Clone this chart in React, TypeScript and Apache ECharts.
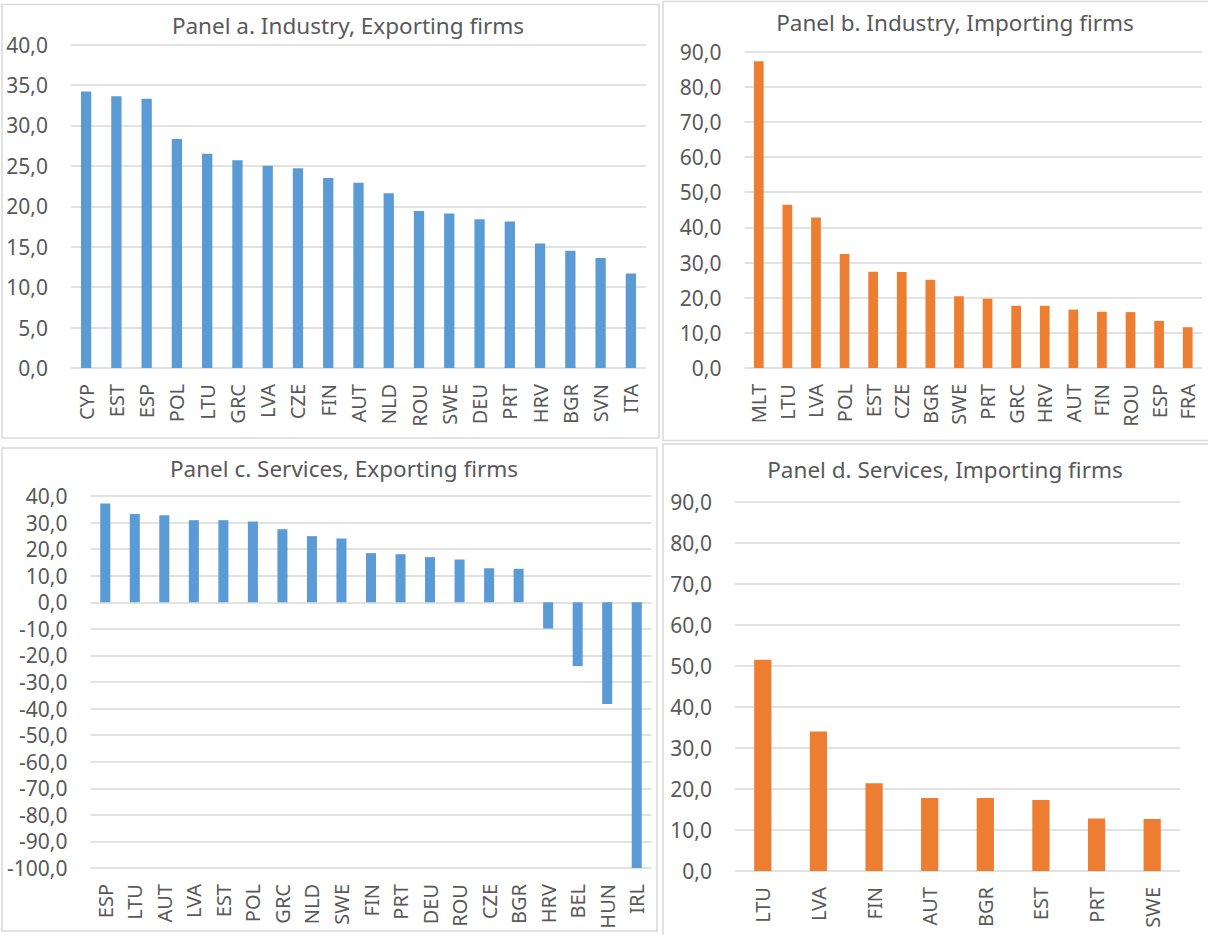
import React, { useEffect, useRef } from "react";
import * as echarts from "echarts";

const catA = ["CYP", "EST", "ESP", "POL", "LTU", "GRC", "LVA", "CZE", "FIN", "AUT", "NLD", "ROU", "SWE", "DEU", "PRT", "HRV", "BGR", "SVN", "ITA"];
const valA = [34.2, 33.6, 33.3, 28.3, 26.5, 25.7, 25.0, 24.7, 23.5, 22.9, 21.6, 19.4, 19.1, 18.4, 18.1, 15.4, 14.5, 13.6, 11.7];

const catB = ["MLT", "LTU", "LVA", "POL", "EST", "CZE", "BGR", "SWE", "PRT", "GRC", "HRV", "AUT", "FIN", "ROU", "ESP", "FRA"];
const valB = [87.2, 46.4, 42.8, 32.4, 27.4, 27.3, 25.1, 20.4, 19.7, 17.7, 17.7, 16.6, 16.0, 15.9, 13.4, 11.6];

const catC = ["ESP", "LTU", "AUT", "LVA", "EST", "POL", "GRC", "NLD", "SWE", "FIN", "PRT", "DEU", "ROU", "CZE", "BGR", "HRV", "BEL", "HUN", "IRL"];
const valC = [37.2, 33.2, 32.8, 30.9, 30.9, 30.4, 27.5, 24.9, 24.0, 18.5, 18.1, 17.0, 16.1, 12.8, 12.6, -9.9, -24.0, -38.3, -100.0];

const catD = ["LTU", "LVA", "FIN", "AUT", "BGR", "EST", "PRT", "SWE"];
const valD = [51.5, 34.0, 21.4, 17.8, 17.8, 17.3, 12.8, 12.7];

const titles = [
  "Panel a. Industry, Exporting firms",
  "Panel b. Industry, Importing firms",
  "Panel c. Services, Exporting firms",
  "Panel d. Services, Importing firms",
];

const yRanges = [
  { min: 0, max: 40, interval: 5 },
  { min: 0, max: 90, interval: 10 },
  { min: -100, max: 40, interval: 10 },
  { min: 0, max: 90, interval: 10 },
];

const BLUE = "#5B9BD5";
const ORANGE = "#ED7D31";
const TEXT = "#595959";
const GRID = "#D9D9D9";
const FONT = "Noto Sans";

export default function App() {
  const ref = useRef<HTMLDivElement>(null);

  useEffect(() => {
    if (!ref.current) return;
    const chart = echarts.init(ref.current, undefined, { renderer: "svg" });

    const grids = [
      { left: 71, top: 44.5, width: 575, height: 323.5 },
      { left: 744.5, top: 51.5, width: 457.5, height: 316.5 },
      { left: 90.5, top: 496, width: 561, height: 372 },
      { left: 735, top: 502, width: 445, height: 369 },
    ];
    const cats = [catA, catB, catC, catD];
    const vals = [valA, valB, valC, valD];
    const colors = [BLUE, ORANGE, BLUE, ORANGE];
    const titlePos = [
      { x: 343, y: 23 },
      { x: 950, y: 20 },
      { x: 339, y: 466 },
      { x: 940, y: 467 },
    ];

    const fmt = (v: number) => v.toFixed(1).replace(".", ",");

    chart.setOption({
      animation: false,
      backgroundColor: "#ffffff",
      title: titles.map((t, i) => ({
        text: t,
        left: titlePos[i].x,
        top: titlePos[i].y - 14,
        textAlign: "center",
        textStyle: { color: TEXT, fontFamily: FONT, fontSize: 22.5, fontWeight: "normal" },
      })),
      grid: grids.map((g) => ({ ...g, containLabel: false })),
      xAxis: cats.map((c, i) => ({
        type: "category",
        gridIndex: i,
        data: c,
        position: "bottom",
        axisLine: { show: false, onZero: false },
        axisTick: { show: false },
        axisLabel: {
          interval: 0,
          rotate: 90,
          margin: 16,
          color: TEXT,
          fontFamily: FONT,
          fontSize: 20,
        },
      })),
      yAxis: yRanges.map((r, i) => ({
        type: "value",
        gridIndex: i,
        min: r.min,
        max: r.max,
        interval: r.interval,
        axisLine: { show: false },
        axisTick: { show: false },
        splitLine: { show: true, lineStyle: { color: GRID, width: 1.5 } },
        axisLabel: {
          margin: 23,
          color: TEXT,
          fontFamily: FONT,
          fontSize: 21,
          formatter: fmt,
        },
      })),
      series: vals.map((v, i) => ({
        type: "bar",
        xAxisIndex: i,
        yAxisIndex: i,
        data: v,
        barWidth: i === 3 ? "31%" : "34%",
        itemStyle: { color: colors[i] },
      })),
      graphic: [
        { type: "rect", shape: { x: 2, y: 4.5, width: 657, height: 433.5 }, style: { fill: "none", stroke: GRID, lineWidth: 1.5 }, silent: true },
        { type: "rect", shape: { x: 663, y: 1.5, width: 570, height: 439 }, style: { fill: "none", stroke: GRID, lineWidth: 1.5 }, silent: true },
        { type: "rect", shape: { x: 2, y: 448, width: 655, height: 483 }, style: { fill: "none", stroke: GRID, lineWidth: 1.5 }, silent: true },
        { type: "rect", shape: { x: 663, y: 444, width: 570, height: 510 }, style: { fill: "none", stroke: GRID, lineWidth: 1.5 }, silent: true },
      ],
    });

    return () => {
      chart.dispose();
    };
  }, []);

  return (
    <div
      ref={ref}
      style={{ position: "absolute", left: 0, top: 0, width: 1208, height: 935 }}
    />
  );
}
